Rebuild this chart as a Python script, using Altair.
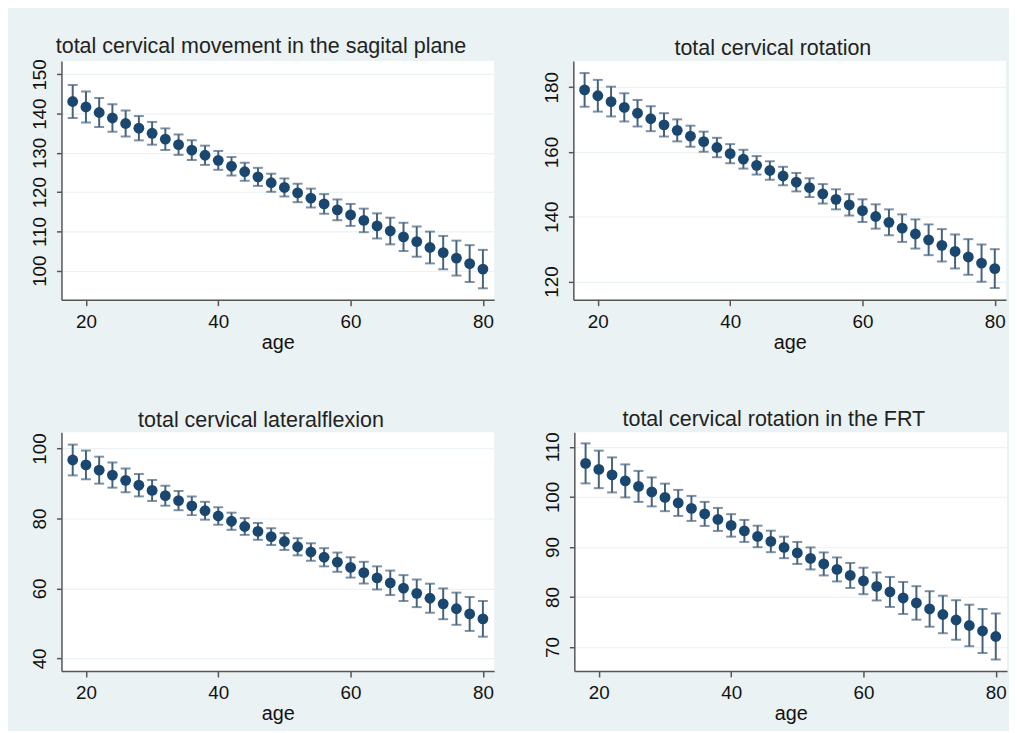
import altair as alt
import pandas as pd

ages = [18, 20, 22, 24, 26, 28, 30, 32, 34, 36, 38, 40, 42, 44, 46, 48,
        50, 52, 54, 56, 58, 60, 62, 64, 66, 68, 70, 72, 74, 76, 78, 80]

# total cervical movement in the sagital plane
sag_mean = [143.1, 141.7, 140.3, 138.9, 137.5, 136.3, 135.0, 133.5, 132.1, 130.7, 129.4, 128.1,
            126.6, 125.2, 123.9, 122.4, 121.2, 119.8, 118.5, 117.0, 115.5, 114.2, 112.8, 111.4,
            110.1, 108.6, 107.4, 105.9, 104.6, 103.2, 101.8, 100.4]
sag_hw = [4.2, 3.95, 3.7, 3.5, 3.3, 3.1, 2.9, 2.75, 2.6, 2.5, 2.45, 2.4, 2.35, 2.3, 2.3, 2.3,
          2.3, 2.35, 2.4, 2.5, 2.65, 2.8, 3.0, 3.2, 3.4, 3.6, 3.85, 4.05, 4.25, 4.45, 4.7, 4.9]

# total cervical rotation
rot_mean = [179.2, 177.4, 175.6, 173.8, 172.0, 170.3, 168.4, 166.7, 164.9, 163.2, 161.4, 159.5,
            157.8, 155.9, 154.3, 152.6, 150.7, 149.0, 147.1, 145.4, 143.7, 141.9, 140.1, 138.3,
            136.5, 134.7, 132.9, 131.2, 129.3, 127.6, 125.7, 124.0]
rot_hw = [5.2, 4.9, 4.6, 4.35, 4.1, 3.85, 3.6, 3.4, 3.25, 3.1, 3.0, 2.95, 2.9, 2.85, 2.85, 2.85,
          2.85, 2.9, 3.0, 3.1, 3.3, 3.5, 3.75, 4.0, 4.25, 4.5, 4.75, 5.0, 5.25, 5.5, 5.75, 6.0]

# total cervical lateralflexion
lat_mean = [96.7, 95.3, 93.8, 92.4, 90.9, 89.5, 88.0, 86.5, 85.1, 83.6, 82.2, 80.7,
            79.2, 77.7, 76.3, 74.8, 73.4, 71.9, 70.4, 68.9, 67.5, 66.0, 64.5, 63.0,
            61.6, 60.1, 58.6, 57.2, 55.6, 54.2, 52.7, 51.3]
lat_hw = [4.4, 4.1, 3.85, 3.6, 3.4, 3.2, 3.0, 2.85, 2.75, 2.65, 2.55, 2.5, 2.45, 2.4, 2.4, 2.4,
          2.4, 2.45, 2.5, 2.6, 2.75, 2.9, 3.1, 3.3, 3.5, 3.7, 3.95, 4.15, 4.4, 4.6, 4.85, 5.1]

# total cervical rotation in the FRT
frt_mean = [106.7, 105.5, 104.4, 103.2, 102.1, 101.0, 99.9, 98.8, 97.7, 96.6, 95.5, 94.3,
            93.2, 92.1, 91.1, 89.9, 88.8, 87.7, 86.6, 85.5, 84.3, 83.2, 82.1, 81.0,
            79.8, 78.8, 77.6, 76.5, 75.4, 74.3, 73.2, 72.1]
frt_hw = [4.0, 3.75, 3.5, 3.3, 3.1, 2.9, 2.75, 2.6, 2.5, 2.4, 2.3, 2.25, 2.2, 2.15, 2.15, 2.15,
          2.2, 2.2, 2.3, 2.4, 2.5, 2.65, 2.8, 3.0, 3.2, 3.35, 3.55, 3.75, 3.95, 4.15, 4.4, 4.6]

titles = ["total cervical movement in the sagital plane", "total cervical rotation",
          "total cervical lateralflexion", "total cervical rotation in the FRT"]
x_ticks = [20, 40, 60, 80]

POINT = "#1A476F"
BAR = "#46627E"
BG = "#EAF2F3"
W, H = 437, 241


def panel(title, mean, hw, ydom, yticks):
    df = pd.DataFrame({
        "age": ages,
        "m": mean,
        "lo": [a - b for a, b in zip(mean, hw)],
        "hi": [a + b for a, b in zip(mean, hw)],
    })
    xs = alt.X("age:Q", scale=alt.Scale(domain=[16.3, 81.7], nice=False, zero=False),
               axis=alt.Axis(values=x_ticks, title="age", grid=False, labelFlush=False,
                             tickSize=6, labelPadding=7, titlePadding=1))
    yscale = alt.Scale(domain=ydom, nice=False, zero=False)
    yaxis = alt.Axis(values=yticks, title=None, grid=True, labelAngle=270,
                     labelAlign="center", labelBaseline="bottom", labelPadding=7,
                     tickSize=5, labelFlush=False, labelOverlap=False)
    base = alt.Chart(df)
    rule = base.mark_rule(color=BAR, strokeWidth=2).encode(
        x=xs, y=alt.Y("lo:Q", scale=yscale, axis=yaxis), y2="hi:Q")
    cap_lo = base.mark_tick(orient="horizontal", size=10, thickness=2, color=BAR).encode(
        x=xs, y=alt.Y("lo:Q", scale=yscale, axis=yaxis))
    cap_hi = base.mark_tick(orient="horizontal", size=10, thickness=2, color=BAR).encode(
        x=xs, y=alt.Y("hi:Q", scale=yscale, axis=yaxis))
    pts = base.mark_circle(size=120, color=POINT, opacity=1).encode(
        x=xs, y=alt.Y("m:Q", scale=yscale, axis=yaxis))
    return alt.layer(rule, cap_lo, cap_hi, pts).properties(
        width=W, height=H,
        title=alt.TitleParams(title, anchor="middle", dx=-17, offset=1))


p1 = panel(titles[0], sag_mean, sag_hw, [92.6, 153.4], [100, 110, 120, 130, 140, 150])
p2 = panel(titles[1], rot_mean, rot_hw, [114.4, 188.1], [120, 140, 160, 180])
p3 = panel(titles[2], lat_mean, lat_hw, [36.4, 104.6], [40, 60, 80, 100])
p4 = panel(titles[3], frt_mean, frt_hw, [65.2, 112.9], [70, 80, 90, 100, 110])

chart = alt.vconcat(
    alt.hconcat(p1, p2, spacing=49),
    alt.hconcat(p3, p4, spacing=49),
    spacing=57,
).properties(
    padding={"left": 22, "top": 24, "right": 2, "bottom": 4},
).configure(
    background=BG, font="Liberation Sans"
).configure_view(
    fill="white", strokeWidth=0
).configure_axis(
    domainColor="#555555", domainWidth=1.5, tickColor="#555555", tickWidth=1.5,
    labelColor="#111111", labelFont="Liberation Sans", labelFontSize=19,
    titleFont="Liberation Sans", titleFontSize=20, titleFontWeight="normal", titleColor="#111111",
    gridColor=BG, gridWidth=1.2
).configure_title(
    font="Liberation Sans", fontSize=21.7, fontWeight="normal", color="#222222"
)

chart.save("out.html", embed_options={"renderer": "svg", "actions": False})
